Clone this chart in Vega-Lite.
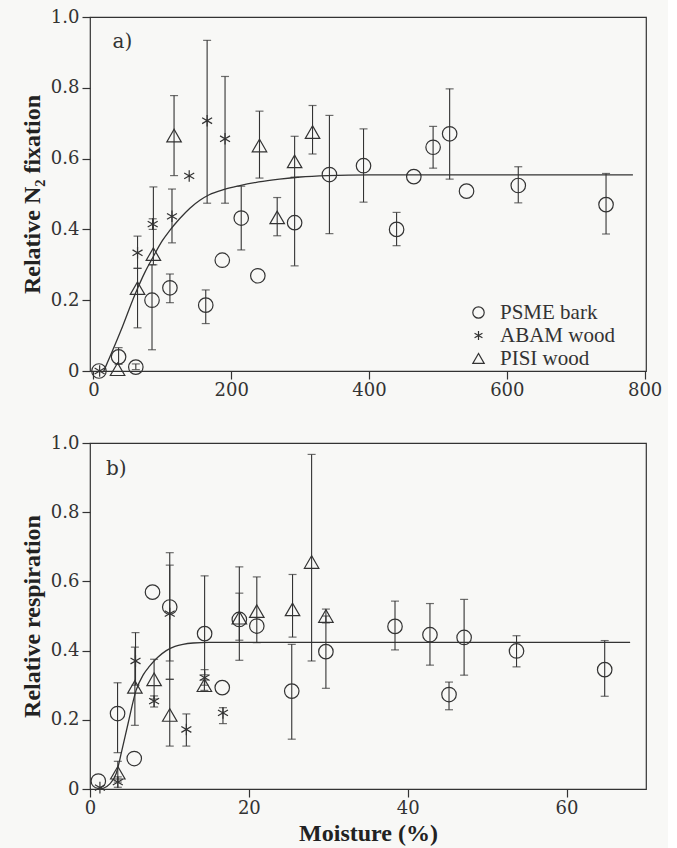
{
  "$schema": "https://vega.github.io/schema/vega-lite/v6.json",
  "background": "#f8f8f6",
  "padding": {"left": 19, "top": 7, "right": 5, "bottom": 2},
  "spacing": 33,
  "config": {
    "view": {"stroke": "#333", "strokeWidth": 1.2},
    "axis": {
      "domain": false,
      "grid": false,
      "ticks": true,
      "tickSize": 8,
      "tickColor": "#333",
      "tickWidth": 1.2,
      "labelFont": "DejaVu Serif",
      "labelFontSize": 18,
      "labelColor": "#333",
      "labelFlush": false,
      "labelOverlap": false,
      "titleFont": "Liberation Serif",
      "titleFontSize": 24,
      "titleFontWeight": "bold",
      "titleColor": "#222"
    },
    "axisX": {"labelPadding": 2, "titlePadding": 4},
    "axisY": {"labelPadding": 3, "titlePadding": 6}
  },
  "resolve": {"scale": {"x": "independent", "y": "independent", "shape": "independent"}, "legend": {"shape": "independent"}},
  "datasets": {
    "a_pts": [
      {"sp": "PSME bark", "m": 8, "v": 0.0, "lo": null, "hi": null},
      {"sp": "PSME bark", "m": 36.5, "v": 0.04, "lo": 0.019, "hi": 0.066},
      {"sp": "PSME bark", "m": 61.5, "v": 0.011, "lo": 0.004, "hi": 0.02},
      {"sp": "PSME bark", "m": 85, "v": 0.2, "lo": 0.06, "hi": 0.3},
      {"sp": "PSME bark", "m": 111, "v": 0.235, "lo": 0.193, "hi": 0.274},
      {"sp": "PSME bark", "m": 163, "v": 0.186, "lo": 0.134, "hi": 0.229},
      {"sp": "PSME bark", "m": 187, "v": 0.313, "lo": null, "hi": null},
      {"sp": "PSME bark", "m": 214.5, "v": 0.432, "lo": 0.342, "hi": 0.522},
      {"sp": "PSME bark", "m": 238.6, "v": 0.269, "lo": null, "hi": null},
      {"sp": "PSME bark", "m": 292, "v": 0.419, "lo": 0.297, "hi": 0.547},
      {"sp": "PSME bark", "m": 342.5, "v": 0.555, "lo": 0.388, "hi": 0.722},
      {"sp": "PSME bark", "m": 392, "v": 0.58, "lo": 0.477, "hi": 0.684},
      {"sp": "PSME bark", "m": 440, "v": 0.4, "lo": 0.354, "hi": 0.448},
      {"sp": "PSME bark", "m": 465, "v": 0.549, "lo": null, "hi": null},
      {"sp": "PSME bark", "m": 493, "v": 0.632, "lo": 0.573, "hi": 0.691},
      {"sp": "PSME bark", "m": 517, "v": 0.67, "lo": 0.542, "hi": 0.797},
      {"sp": "PSME bark", "m": 541.5, "v": 0.508, "lo": null, "hi": null},
      {"sp": "PSME bark", "m": 616.6, "v": 0.524, "lo": 0.475, "hi": 0.577},
      {"sp": "PSME bark", "m": 744, "v": 0.47, "lo": 0.387, "hi": 0.558},
      {"sp": "ABAM wood", "m": 9, "v": 0.0, "lo": null, "hi": null},
      {"sp": "ABAM wood", "m": 64, "v": 0.334, "lo": 0.29, "hi": 0.381},
      {"sp": "ABAM wood", "m": 86, "v": 0.415, "lo": 0.4, "hi": 0.43},
      {"sp": "ABAM wood", "m": 114, "v": 0.437, "lo": 0.362, "hi": 0.514},
      {"sp": "ABAM wood", "m": 139, "v": 0.551, "lo": null, "hi": null},
      {"sp": "ABAM wood", "m": 165, "v": 0.707, "lo": 0.474, "hi": 0.934},
      {"sp": "ABAM wood", "m": 191, "v": 0.656, "lo": 0.474, "hi": 0.832},
      {"sp": "PISI wood", "m": 35, "v": 0.005, "lo": null, "hi": null},
      {"sp": "PISI wood", "m": 64, "v": 0.234, "lo": 0.122, "hi": 0.29},
      {"sp": "PISI wood", "m": 87, "v": 0.33, "lo": 0.3, "hi": 0.52},
      {"sp": "PISI wood", "m": 117, "v": 0.665, "lo": 0.552, "hi": 0.778},
      {"sp": "PISI wood", "m": 241, "v": 0.637, "lo": 0.545, "hi": 0.734},
      {"sp": "PISI wood", "m": 266.7, "v": 0.434, "lo": 0.382, "hi": 0.49},
      {"sp": "PISI wood", "m": 292, "v": 0.592, "lo": 0.547, "hi": 0.663},
      {"sp": "PISI wood", "m": 318, "v": 0.675, "lo": 0.613, "hi": 0.75}
    ],
    "a_curve": [
      {"m": 15, "v": 0.0}, {"m": 25, "v": 0.045}, {"m": 40, "v": 0.115}, {"m": 60, "v": 0.215},
      {"m": 75, "v": 0.28}, {"m": 86, "v": 0.32}, {"m": 100, "v": 0.368}, {"m": 110, "v": 0.395},
      {"m": 125, "v": 0.43}, {"m": 140, "v": 0.46}, {"m": 155, "v": 0.483}, {"m": 168, "v": 0.498},
      {"m": 190, "v": 0.513}, {"m": 211, "v": 0.523}, {"m": 240, "v": 0.534}, {"m": 270, "v": 0.542},
      {"m": 300, "v": 0.548}, {"m": 340, "v": 0.552}, {"m": 400, "v": 0.554}, {"m": 500, "v": 0.554},
      {"m": 600, "v": 0.554}, {"m": 783, "v": 0.554}
    ],
    "b_pts": [
      {"sp": "PSME bark", "m": 1.05, "v": 0.023, "lo": null, "hi": null},
      {"sp": "PSME bark", "m": 3.47, "v": 0.218, "lo": 0.105, "hi": 0.307},
      {"sp": "PSME bark", "m": 5.57, "v": 0.088, "lo": null, "hi": null},
      {"sp": "PSME bark", "m": 7.87, "v": 0.569, "lo": null, "hi": null},
      {"sp": "PSME bark", "m": 10.04, "v": 0.526, "lo": 0.37, "hi": 0.683},
      {"sp": "PSME bark", "m": 14.43, "v": 0.449, "lo": 0.33, "hi": 0.616},
      {"sp": "PSME bark", "m": 16.65, "v": 0.293, "lo": null, "hi": null},
      {"sp": "PSME bark", "m": 18.8, "v": 0.49, "lo": 0.372, "hi": 0.642},
      {"sp": "PSME bark", "m": 21.0, "v": 0.471, "lo": null, "hi": null},
      {"sp": "PSME bark", "m": 25.4, "v": 0.283, "lo": 0.144, "hi": 0.418},
      {"sp": "PSME bark", "m": 29.7, "v": 0.397, "lo": 0.291, "hi": 0.5},
      {"sp": "PSME bark", "m": 38.4, "v": 0.47, "lo": 0.402, "hi": 0.543},
      {"sp": "PSME bark", "m": 42.8, "v": 0.446, "lo": 0.358, "hi": 0.536},
      {"sp": "PSME bark", "m": 45.2, "v": 0.273, "lo": 0.229, "hi": 0.309},
      {"sp": "PSME bark", "m": 47.1, "v": 0.438, "lo": 0.329, "hi": 0.548},
      {"sp": "PSME bark", "m": 53.7, "v": 0.399, "lo": 0.353, "hi": 0.443},
      {"sp": "PSME bark", "m": 64.8, "v": 0.345, "lo": 0.268, "hi": 0.429},
      {"sp": "ABAM wood", "m": 1.25, "v": 0.004, "lo": null, "hi": null},
      {"sp": "ABAM wood", "m": 3.5, "v": 0.02, "lo": 0.005, "hi": 0.035},
      {"sp": "ABAM wood", "m": 5.73, "v": 0.37, "lo": 0.3, "hi": 0.452},
      {"sp": "ABAM wood", "m": 8.07, "v": 0.254, "lo": 0.237, "hi": 0.269},
      {"sp": "ABAM wood", "m": 10.04, "v": 0.507, "lo": 0.317, "hi": 0.647},
      {"sp": "ABAM wood", "m": 12.13, "v": 0.172, "lo": 0.124, "hi": 0.217},
      {"sp": "ABAM wood", "m": 14.43, "v": 0.322, "lo": 0.3, "hi": 0.345},
      {"sp": "ABAM wood", "m": 16.74, "v": 0.22, "lo": 0.189, "hi": 0.235},
      {"sp": "PISI wood", "m": 3.5, "v": 0.047, "lo": 0.02, "hi": 0.08},
      {"sp": "PISI wood", "m": 5.65, "v": 0.295, "lo": 0.184, "hi": 0.41},
      {"sp": "PISI wood", "m": 8.07, "v": 0.317, "lo": 0.26, "hi": 0.375},
      {"sp": "PISI wood", "m": 10.04, "v": 0.214, "lo": 0.124, "hi": 0.317},
      {"sp": "PISI wood", "m": 14.4, "v": 0.3, "lo": 0.285, "hi": 0.315},
      {"sp": "PISI wood", "m": 18.8, "v": 0.495, "lo": 0.43, "hi": 0.566},
      {"sp": "PISI wood", "m": 21.0, "v": 0.514, "lo": 0.423, "hi": 0.613},
      {"sp": "PISI wood", "m": 25.5, "v": 0.519, "lo": 0.439, "hi": 0.62},
      {"sp": "PISI wood", "m": 27.9, "v": 0.656, "lo": 0.37, "hi": 0.967},
      {"sp": "PISI wood", "m": 29.7, "v": 0.5, "lo": 0.48, "hi": 0.52}
    ],
    "b_curve": [
      {"m": 1.5, "v": 0.0}, {"m": 2.5, "v": 0.015}, {"m": 3.3, "v": 0.045}, {"m": 4.0, "v": 0.11},
      {"m": 4.8, "v": 0.19}, {"m": 5.8, "v": 0.285}, {"m": 6.7, "v": 0.33}, {"m": 7.5, "v": 0.355},
      {"m": 8.5, "v": 0.38}, {"m": 9.6, "v": 0.4}, {"m": 10.7, "v": 0.412}, {"m": 11.7, "v": 0.418},
      {"m": 13, "v": 0.422}, {"m": 15, "v": 0.424}, {"m": 20, "v": 0.424}, {"m": 68, "v": 0.424}
    ]
  },
  "vconcat": [
    {
      "width": 556,
      "height": 354,
      "encoding": {
        "x": {"field": "m", "type": "quantitative", "scale": {"domain": [-5, 802], "nice": false, "zero": false},
              "axis": {"title": null, "values": [0, 200, 400, 600, 800], "ticks": true, "tickSize": 8}},
        "y": {"field": "v", "type": "quantitative", "scale": {"domain": [0, 1], "nice": false},
              "axis": {"title": "Relative N₂ fixation", "values": [0, 0.2, 0.4, 0.6, 0.8, 1.0], "ticks": true, "tickSize": 8,
                       "labelExpr": "datum.value == 0 ? '0' : format(datum.value, '.1f')"}}
      },
      "layer": [
        {"data": {"name": "a_curve"}, "mark": {"type": "line", "color": "#333", "strokeWidth": 1.3, "interpolate": "monotone"}},
        {"data": {"name": "a_pts"}, "mark": {"type": "rule", "color": "#333", "strokeWidth": 1.1},
         "encoding": {"y": {"field": "lo", "type": "quantitative"}, "y2": {"field": "hi"}}},
        {"data": {"name": "a_pts"}, "mark": {"type": "tick", "orient": "horizontal", "color": "#333", "size": 8, "thickness": 1.2},
         "encoding": {"y": {"field": "lo", "type": "quantitative"}}},
        {"data": {"name": "a_pts"}, "mark": {"type": "tick", "orient": "horizontal", "color": "#333", "size": 8, "thickness": 1.2},
         "encoding": {"y": {"field": "hi", "type": "quantitative"}}},
        {"data": {"name": "a_pts"}, "mark": {"type": "point", "filled": false, "stroke": "#333", "strokeWidth": 1.2, "opacity": 1, "size": 210},
         "encoding": {
           "shape": {"field": "sp", "type": "nominal",
             "scale": {"domain": ["PSME bark", "ABAM wood", "PISI wood"], "range": ["circle", "M0,-0.8L0,0.8M-0.69,-0.4L0.69,0.4M-0.69,0.4L0.69,-0.4", "triangle-up"]},
             "legend": {"orient": "none", "legendX": 378, "legendY": 285, "title": null, "padding": 0,
               "labelFont": "Liberation Serif", "labelFontSize": 21, "labelColor": "#333", "labelOffset": 11,
               "symbolSize": 130, "symbolStrokeColor": "#333", "symbolStrokeWidth": 1.2, "symbolFillColor": "transparent", "rowPadding": 1}}
         }},
        {"data": {"values": [{"m": 42, "v": 0.928, "label": "a)"}]},
         "mark": {"type": "text", "font": "DejaVu Serif", "fontSize": 20, "color": "#333", "align": "center", "baseline": "middle"},
         "encoding": {"text": {"field": "label", "type": "nominal"}}}
      ]
    },
    {
      "width": 556,
      "height": 346,
      "encoding": {
        "x": {"field": "m", "type": "quantitative", "scale": {"domain": [0, 70], "nice": false, "zero": false},
              "axis": {"title": "Moisture (%)", "values": [0, 20, 40, 60], "ticks": true, "tickSize": 8}},
        "y": {"field": "v", "type": "quantitative", "scale": {"domain": [0, 1], "nice": false},
              "axis": {"title": "Relative respiration", "values": [0, 0.2, 0.4, 0.6, 0.8, 1.0], "ticks": true, "tickSize": 8,
                       "labelExpr": "datum.value == 0 ? '0' : format(datum.value, '.1f')"}}
      },
      "layer": [
        {"data": {"name": "b_curve"}, "mark": {"type": "line", "color": "#333", "strokeWidth": 1.3, "interpolate": "monotone"}},
        {"data": {"name": "b_pts"}, "mark": {"type": "rule", "color": "#333", "strokeWidth": 1.1},
         "encoding": {"y": {"field": "lo", "type": "quantitative"}, "y2": {"field": "hi"}}},
        {"data": {"name": "b_pts"}, "mark": {"type": "tick", "orient": "horizontal", "color": "#333", "size": 8, "thickness": 1.2},
         "encoding": {"y": {"field": "lo", "type": "quantitative"}}},
        {"data": {"name": "b_pts"}, "mark": {"type": "tick", "orient": "horizontal", "color": "#333", "size": 8, "thickness": 1.2},
         "encoding": {"y": {"field": "hi", "type": "quantitative"}}},
        {"data": {"name": "b_pts"}, "mark": {"type": "point", "filled": false, "stroke": "#333", "strokeWidth": 1.2, "opacity": 1, "size": 210},
         "encoding": {
           "shape": {"field": "sp", "type": "nominal", "legend": null,
             "scale": {"domain": ["PSME bark", "ABAM wood", "PISI wood"], "range": ["circle", "M0,-0.8L0,0.8M-0.69,-0.4L0.69,0.4M-0.69,0.4L0.69,-0.4", "triangle-up"]}}
         }},
        {"data": {"values": [{"m": 3.3, "v": 0.926, "label": "b)"}]},
         "mark": {"type": "text", "font": "DejaVu Serif", "fontSize": 20, "color": "#333", "align": "center", "baseline": "middle"},
         "encoding": {"text": {"field": "label", "type": "nominal"}}}
      ]
    }
  ]
}
